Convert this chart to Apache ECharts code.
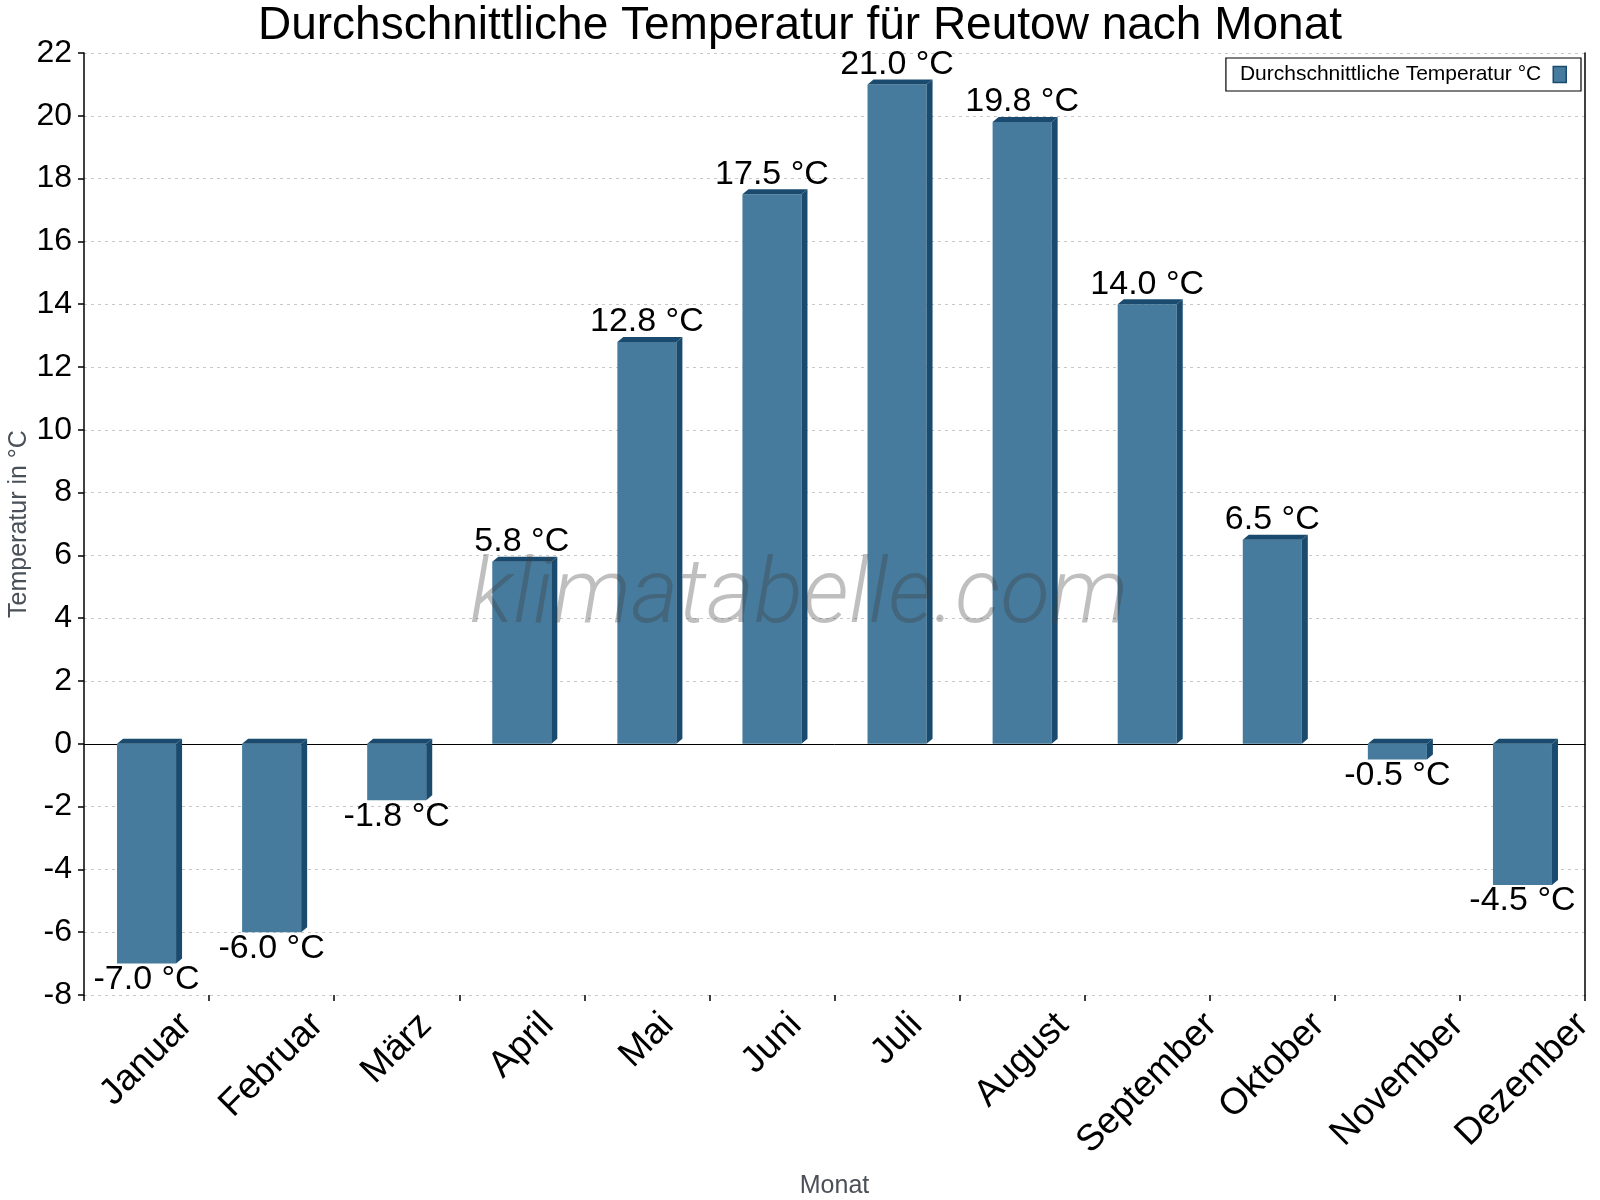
<!DOCTYPE html>
<html>
<head>
<meta charset="utf-8">
<script src="https://cdn.jsdelivr.net/npm/echarts@6/dist/echarts.min.js"></script>
<style>
  html, body { margin: 0; padding: 0; background: #fff; }
  #chart { width: 1600px; height: 1200px; }
</style>
</head>
<body>
<div id="chart"></div>
<script>
const months = ['Januar', 'Februar', 'März', 'April', 'Mai', 'Juni', 'Juli', 'August', 'September', 'Oktober', 'November', 'Dezember'];
const temps = [-7.0, -6.0, -1.8, 5.8, 12.8, 17.5, 21.0, 19.8, 14.0, 6.5, -0.5, -4.5];
const seriesName = 'Durchschnittliche Temperatur °C';
const yMin = -8, yMax = 22, yStep = 2;

const FONT = "'Liberation Sans', Arial, sans-serif";
const FRONT = '#467b9d';
const DARK = '#1a4b6e';
const DX = 6, DY = 5;
const LABEL_SIZE = 37;

// measure month names so the rotated labels can be centred like the original
const measureCtx = document.createElement('canvas').getContext('2d');
measureCtx.font = LABEL_SIZE + 'px ' + FONT;

const chart = echarts.init(document.getElementById('chart'));

function renderBar(params, api) {
  const idx = api.value(0);
  const val = api.value(1);
  const p = api.coord([idx, val]);
  const base = api.coord([idx, 0]);
  const w = api.size([1, 0])[0] * 0.472;
  const x0 = p[0] - w / 2, x1 = p[0] + w / 2;
  const yt = Math.min(p[1], base[1]);
  const yb = Math.max(p[1], base[1]);
  const text = val.toFixed(1) + ' °C';
  return {
    type: 'group',
    children: [
      { type: 'rect', shape: { x: x0, y: yt, width: w, height: yb - yt }, style: { fill: FRONT } },
      { type: 'polygon', shape: { points: [[x0, yt], [x0 + DX, yt - DY], [x1 + DX, yt - DY], [x1, yt]] }, style: { fill: DARK } },
      { type: 'polygon', shape: { points: [[x1, yt], [x1 + DX, yt - DY], [x1 + DX, yb - DY], [x1, yb]] }, style: { fill: DARK } },
      {
        type: 'text',
        x: p[0],
        y: val >= 0 ? yt - DY + 2 : yb - 1,
        style: {
          text: text,
          fill: '#000',
          font: '34px ' + FONT,
          align: 'center',
          verticalAlign: val >= 0 ? 'bottom' : 'top'
        }
      }
    ]
  };
}

function renderMonth(params, api) {
  const idx = api.value(0);
  const p = api.coord([idx, api.value(1)]);
  const name = months[idx];
  const L = measureCtx.measureText(name).width;
  const half = (L + LABEL_SIZE * 0.72) * Math.SQRT1_2 / 2;
  return {
    type: 'text',
    x: p[0],
    y: p[1] + 15 + half,
    rotation: Math.PI / 4,
    style: {
      text: name,
      fill: '#000',
      font: LABEL_SIZE + 'px ' + FONT,
      align: 'center',
      verticalAlign: 'middle'
    }
  };
}

const option = {
  backgroundColor: '#ffffff',
  animation: false,
  title: {
    text: 'Durchschnittliche Temperatur für Reutow nach Monat',
    left: 'center',
    top: 3,
    padding: 0,
    textStyle: { fontFamily: FONT, fontSize: 46, fontWeight: 'normal', color: '#000' }
  },
  legend: {
    data: [seriesName],
    right: 19,
    top: 58,
    align: 'right',
    orient: 'horizontal',
    backgroundColor: '#fff',
    borderColor: '#000',
    borderWidth: 1.2,
    borderRadius: 0,
    padding: [6, 14, 6, 14],
    itemWidth: 13,
    itemHeight: 16,
    icon: 'rect',
    itemStyle: { color: FRONT, borderColor: DARK, borderWidth: 1.5 },
    textStyle: { fontFamily: FONT, fontSize: 21, color: '#000', padding: [0, 7, 0, 0] }
  },
  graphic: [{
    type: 'text',
    x: 799,
    y: 599,
    silent: true,
    z: 100,
    style: {
      text: 'klimatabelle.com',
      font: 'italic 300 91px Roboto, sans-serif',
      fill: 'rgba(60,60,60,0.33)',
      align: 'center',
      verticalAlign: 'middle'
    }
  }],
  grid: { left: 84, right: 15, top: 53, bottom: 205, containLabel: false, outerBoundsMode: 'none' },
  xAxis: [{
    type: 'category',
    data: months,
    position: 'bottom',
    name: 'Monat',
    nameLocation: 'middle',
    nameGap: 179,
    nameMoveOverlap: false,
    nameTextStyle: { fontFamily: FONT, fontSize: 25, color: '#4a5058' },
    axisLine: { show: false, onZero: false },
    axisTick: { show: true, length: 6, lineStyle: { color: '#000', width: 1.5 } },
    axisLabel: { show: false },
    splitLine: { show: false }
  }, {
    type: 'category',
    data: months,
    position: 'bottom',
    axisLine: { show: true, onZero: true, lineStyle: { color: '#000', width: 1 } },
    axisTick: { show: false },
    axisLabel: { show: false },
    splitLine: { show: false }
  }],
  yAxis: [{
    type: 'value',
    min: yMin,
    max: yMax,
    interval: yStep,
    name: 'Temperatur in °C',
    nameLocation: 'middle',
    nameGap: 52,
    nameMoveOverlap: false,
    nameTextStyle: { fontFamily: FONT, fontSize: 25, color: '#4a5058' },
    axisLine: { show: true, lineStyle: { color: '#000', width: 1.5 } },
    axisTick: { show: true, length: 6, lineStyle: { color: '#000', width: 1.5 } },
    axisLabel: { fontFamily: FONT, fontSize: 32, color: '#000', margin: 12 },
    splitLine: { show: true, lineStyle: { color: '#c8c8c8', type: [3, 4], width: 1 } }
  }, {
    type: 'value',
    position: 'right',
    min: yMin,
    max: yMax,
    interval: yStep,
    axisLine: { show: true, lineStyle: { color: '#000', width: 1.5 } },
    axisTick: { show: false },
    axisLabel: { show: false },
    splitLine: { show: false }
  }],
  series: [{
    name: seriesName,
    type: 'custom',
    xAxisIndex: 0,
    yAxisIndex: 0,
    renderItem: renderBar,
    itemStyle: { color: FRONT },
    encode: { x: 0, y: 1 },
    data: temps.map((v, i) => [i, v]),
    z: 3
  }, {
    name: 'labels',
    type: 'custom',
    xAxisIndex: 0,
    yAxisIndex: 0,
    renderItem: renderMonth,
    encode: { x: 0, y: 1 },
    data: months.map((m, i) => [i, yMin]),
    clip: false,
    silent: true
  }]
};

chart.setOption(option);
</script>
</body>
</html>
